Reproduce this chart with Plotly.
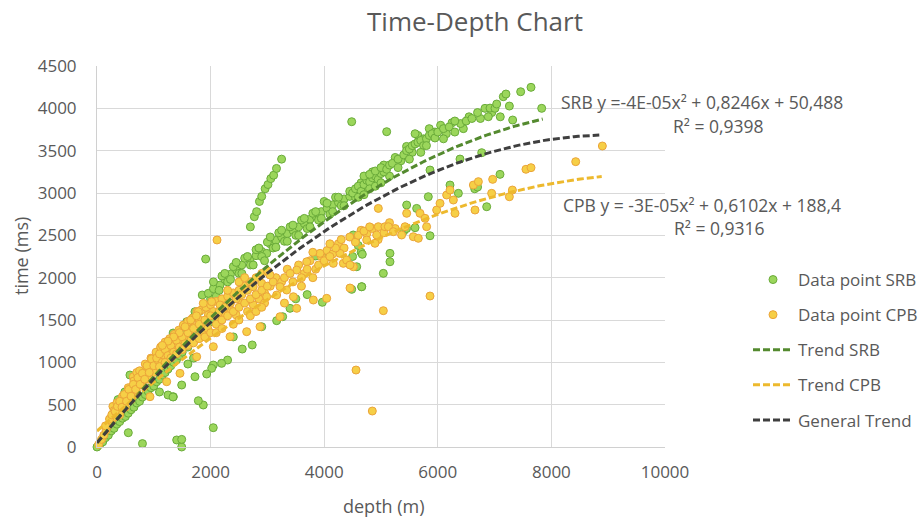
import plotly.graph_objects as go
import numpy as np

# ---------------- data ----------------
srb_depth = [
    0, 50, 100, 150, 200, 250, 300, 350, 400, 450, 500, 550, 600, 650, 700, 750, 800, 850, 900, 950,
    1000, 1050, 1100, 1150, 1200, 1250, 1300, 1350, 1400, 1450, 1500,
    490, 580, 370,
    1000, 1100, 1200, 1300, 1400, 1500, 1600, 1700, 1800, 1900, 2000,
    1600, 1700, 1800, 1900, 2000, 2100, 2200, 2300,
    1100, 1340, 1580, 1725, 1853, 1960, 2050, 2166, 2250, 2350, 2459, 2550, 2694, 2800, 2900, 2988,
    3050, 3150, 3250, 3350, 3450, 3550, 3650, 3750, 3850, 3950, 4050, 4150, 4250, 4350, 4450,
    2100, 2300, 2500, 2700, 2900, 3100, 3300, 3500, 3700, 3900, 4100, 4300,
    2200, 2400, 2600, 2800, 3000, 3200, 3400, 3600, 3800, 4000, 4200,
    2050, 2150, 2250, 2350, 2450, 2550, 2650, 2750, 2850, 2950, 3050, 3150, 3250, 3350, 3450, 3550,
    3650, 3750, 3850, 3950, 4050, 4150, 4250, 4350, 4450, 4550, 4650, 4750, 4850, 4950, 5050, 5150,
    5250, 5350, 5450, 5550, 5650, 5750, 5850, 5950, 6050, 6150, 6250, 6450, 6550, 6750, 6950, 7100,
    4500, 4550, 4600, 4650, 4700, 4750, 4800, 4850, 4900, 4950, 5000, 5050, 4700, 4800, 4900, 5000,
    4600, 4700, 4800, 4900, 5000, 5100, 5150,
    5200, 5300, 5400, 5450, 5500, 5550, 5600, 5650, 5700, 5750, 5800, 5850, 5900, 5950, 6000,
    5300, 5500, 5700, 5600, 5800,
    6100, 6200, 6300, 6400, 6500, 6100, 6300, 6831, 6919, 7007, 7037, 7153, 7200, 7260, 6889,
    7459, 7641, 7829, 7318, 6600, 6700,
    5863, 5833, 6215, 6362, 6861, 7095, 5452, 5628, 5863, 5158, 5158, 5041, 4660, 6773, 6391,
    6650, 6700, 5400, 5450, 5600, 4512, 4550, 4600, 4650, 4500,
    4484, 5100, 1913, 800, 1491, 1403, 1491, 2047, 1871, 1784, 1344, 1491, 1725, 551, 1250, 1338, 1100,
    2299, 2194, 2048, 2019, 1931, 2557, 2733, 3163, 3269, 3398, 3850, 4073, 4671, 4660, 3967, 4484, 4572,
    2400, 2900, 3500, 3700, 1600, 1700,
    2700, 2770, 2810, 2860, 2900, 2960, 3010, 3060, 3110, 3160, 3250,
]
srb_time = [
    0, 30, 60, 110, 140, 190, 220, 270, 300, 340, 360, 400, 440, 470, 520, 540, 590, 620, 660, 700,
    720, 770, 800, 850, 880, 920, 960, 1000, 1030, 1080, 1120,
    650, 850, 560,
    950, 1050, 1120, 1200, 1300, 1380, 1450, 1530, 1600, 1680, 1750,
    1180, 1250, 1330, 1400, 1480, 1550, 1600, 1700,
    1130, 1346, 1480, 1598, 1795, 1815, 1870, 1913, 1980, 2040, 2090, 2150, 2208, 2260, 2310, 2287,
    2400, 2440, 2480, 2520, 2560, 2600, 2640, 2690, 2730, 2780, 2820, 2860, 2890, 2930, 2960,
    1780, 1950, 2050, 2150, 2250, 2350, 2430, 2500, 2580, 2680, 2750, 2850,
    2020, 2130, 2230, 2330, 2420, 2530, 2600, 2680, 2760, 2900, 2950,
    1950, 1850, 2050, 1980, 2180, 2050, 2250, 2150, 2350, 2200, 2480, 2360, 2560, 2430, 2620, 2500,
    2700, 2600, 2780, 2700, 2880, 2780, 2950, 2850, 3020, 2950, 3120, 3050, 3250, 3120, 3330, 3200,
    3420, 3380, 3550, 3480, 3680, 3640, 3760, 3720, 3800, 3700, 3830, 3760, 3900, 3880, 3950, 3900,
    3000, 3050, 3080, 3020, 3100, 3150, 3130, 3180, 3200, 3160, 3230, 3250, 3200, 3220, 3260, 3300,
    2950, 2980, 3050, 3080, 3120, 3280, 3330,
    3350, 3400, 3450, 3500, 3520, 3560, 3580, 3600, 3620, 3560, 3640, 3680, 3700, 3650, 3720,
    3300, 3400, 3480, 3700, 3560,
    3760, 3780, 3720, 3820, 3850, 3640, 3850, 4000, 4003, 4000, 4051, 4137, 4169, 4027, 3901,
    4196, 4248, 4000, 3862, 3880, 3950,
    3271, 2956, 3094, 2996, 2838, 3220, 2858, 2818, 2495, 2287, 2188, 2051, 1893, 3476, 3401,
    3050, 3070, 2550, 2580, 2590, 2504, 2450, 2380, 2300, 2250,
    3842, 3724, 2220, 40, 0, 83, 90, 228, 496, 547, 594, 732, 830, 169, 614, 591, 650,
    1027, 988, 968, 929, 862, 1157, 1205, 1492, 1539, 1638, 2256, 2248, 2276, 1893, 1709, 1862, 2129,
    1300, 1420, 1750, 1800, 980, 1050,
    2600, 2720, 2780, 2900, 2960, 3050, 3100, 3170, 3210, 3290, 3400,
]

cpb_depth = [
    30, 80, 120, 160, 200, 250, 280, 300, 340, 380, 420, 460, 500, 540, 580, 620, 660, 700, 740, 780,
    820, 860, 900, 940, 980, 300, 400, 500, 600, 700, 800, 900, 1000, 640, 700, 350, 450, 550, 650,
    750, 850, 950,
    150, 220, 260, 320, 360, 400, 440, 480, 520, 560, 600, 640, 680, 720, 760, 800, 840, 880, 920, 960,
    1000, 1040, 1080, 1120, 1160, 1200, 1240, 1280, 1320, 1360, 1400, 1440, 1480, 1520, 1560, 1600,
    1640, 1680, 1720, 1760, 1800, 1840, 1880, 1920, 1960, 2000, 2050, 2100, 2150, 2200, 2250, 2300,
    2350, 2400, 2450, 2500, 2550, 2600, 2650, 2700, 2750, 2800, 2850, 2900, 2950, 3000, 3050, 3150,
    3250, 3350, 3450, 3550, 3650, 3750, 3850, 3950, 4050, 4150, 4250, 4350, 4450, 4550, 4650, 4750,
    4850, 4950, 5050, 5150, 5250,
    1050, 1100, 1150, 1200, 1250, 1300, 1350, 1400, 1450, 1500, 1550, 1600, 1650, 1700, 1750, 1800,
    1850, 1900, 1950, 2000, 1100, 1200, 1300, 1400, 1500, 1600, 1700, 1800, 1900, 2000,
    1227, 933, 1461, 1755, 2048, 1784, 1871, 2019, 2166, 1650, 1750, 1550, 1450, 1350, 1250, 1150,
    2100, 2150, 2200, 2250, 2300, 2350, 2400, 2450, 2500, 2550, 2600, 2650, 2700, 2750, 2800, 2899,
    2900, 2950, 3000, 2100, 2200, 2342, 2400, 2500, 2635, 2700, 2870, 2800, 2900, 2113, 2300, 2500, 2600,
    3046, 2987, 3163, 3222, 3340, 3457, 3516, 3692, 3926, 4278, 4337, 4160, 4395, 4513, 3222, 3516,
    3809, 4044, 3100, 3300, 3400, 3600, 3700, 3800, 3900, 4000, 4100, 3600, 3300, 3800, 4200,
    4454, 4454, 4748, 4894, 4924, 4953, 5070, 5129, 5217, 5363, 5423, 5452, 5569, 5657, 5687, 5775,
    5803, 5980, 6039, 6156, 6215, 6274, 6303, 6626, 6655, 6714, 6948, 6966, 7260, 7313, 7552, 7641,
    8428, 8897, 5863, 5041, 4560, 4847, 4600, 4700, 4800, 4300, 4100, 4953,
]
cpb_time = [
    30, 90, 140, 200, 260, 300, 480, 350, 400, 450, 500, 520, 560, 600, 650, 680, 720, 760, 800, 830,
    870, 900, 940, 980, 1000, 430, 380, 470, 560, 650, 730, 800, 880, 830, 880, 520, 600, 700, 780,
    900, 980, 1050,
    250, 330, 380, 420, 480, 540, 470, 620, 540, 680, 600, 740, 680, 820, 740, 870, 800, 960, 880, 1040,
    960, 1120, 1020, 1180, 1090, 1240, 1140, 1280, 1180, 1330, 1200, 1380, 1260, 1440, 1300, 1480,
    1380, 1520, 1420, 1600, 1500, 1620, 1450, 1650, 1560, 1680, 1600, 1720, 1520, 1750, 1580, 1780,
    1620, 1820, 1560, 1850, 1700, 1900, 1600, 1950, 1680, 2000, 1750, 2050, 1820, 2080, 1900, 2000,
    1950, 2100, 1950, 2150, 2050, 2200, 2100, 2250, 2320, 2280, 2400, 2350, 2480, 2420, 2560, 2520,
    2580, 2450, 2530, 2650, 2580,
    1050, 1100, 1000, 1150, 1080, 1200, 1120, 1260, 1180, 1300, 1220, 1350, 1260, 1400, 1300, 1450,
    1350, 1500, 1400, 1550, 950, 1000, 1050, 1100, 1150, 1200, 1230, 1280, 1300, 1350,
    771, 594, 870, 1066, 1185, 1598, 1697, 1716, 1677, 1500, 1550, 1420, 1350, 1300, 1250, 1200,
    1450, 1600, 1500, 1650, 1550, 1700, 1600, 1750, 1650, 1800, 1700, 1850, 1750, 1893, 1800, 1933,
    1850, 1700, 1900, 1350, 1400, 1303, 1450, 1500, 1362, 1550, 1421, 1600, 1650, 2445, 1850, 1950, 2000,
    2031, 1775, 1795, 1893, 1854, 1775, 2090, 2188, 2287, 2287, 2169, 2169, 2208, 2129, 1539, 1638,
    1736, 1756, 1950, 2000, 2050, 2000, 2100, 2000, 2150, 2200, 2250, 1900, 1700, 2300, 2350,
    2150, 1878, 2445, 2406, 2504, 2602, 2602, 2602, 2543, 2504, 2602, 2760, 2484, 2465, 2760, 2701,
    2602, 2799, 2878, 2976, 3035, 2917, 2760, 3094, 2799, 3134, 2996, 3161, 2956, 3035, 3280, 3299,
    3370, 3555, 1783, 1610, 909, 425, 2500, 2550, 2600, 2450, 2400, 2818,
]

# trendline coefficients (quadratic: a*x^2 + b*x + c) and x-extent
srb_coef = [-4.3e-05, 0.8246, 50.488]
cpb_coef = [-3.06e-05, 0.6102, 188.4]
gen_coef = [-4.4e-05, 0.80, 50.0]
srb_xmax = 7847
cpb_xmax = 8886
gen_xmax = 8843

x_ticks = [0, 2000, 4000, 6000, 8000, 10000]
y_ticks = [0, 500, 1000, 1500, 2000, 2500, 3000, 3500, 4000, 4500]

# ---------------- figure ----------------
FONT = "Open Sans"
GRAY = "#595959"

def curve(coef, xmax):
    xs = np.linspace(0, xmax, 120)
    return xs, np.polyval(coef, xs)

fig = go.Figure()
fig.add_trace(go.Scatter(
    x=srb_depth, y=srb_time, mode="markers", name="Data point SRB", legendgroup="a",
    marker=dict(size=8, color="#9BD65B", line=dict(color="#6AAB3A", width=1)), cliponaxis=False))
fig.add_trace(go.Scatter(
    x=cpb_depth, y=cpb_time, mode="markers", name="Data point CPB", legendgroup="b",
    marker=dict(size=8, color="#F6CF46", line=dict(color="#EBA43A", width=1)), cliponaxis=False))
xs, ys = curve(srb_coef, srb_xmax)
fig.add_trace(go.Scatter(x=xs, y=ys, mode="lines", name="Trend SRB", legendgroup="c",
                         line=dict(color="#548A2F", width=3, dash="7px,3px")))
xs, ys = curve(cpb_coef, cpb_xmax)
fig.add_trace(go.Scatter(x=xs, y=ys, mode="lines", name="Trend CPB", legendgroup="d",
                         line=dict(color="#EDB92E", width=3, dash="7px,3px")))
xs, ys = curve(gen_coef, gen_xmax)
fig.add_trace(go.Scatter(x=xs, y=ys, mode="lines", name="General Trend", legendgroup="e",
                         line=dict(color="#3F3F3F", width=3, dash="7px,3px")))

L, R, T, B = 97, 665, 66, 447
W, H = 919, 517

def px(xp):
    return (xp - L) / (R - L)

def py(yp):
    return (B - yp) / (B - T)

annots = [
    dict(text="SRB y =-4E-05x² + 0,8246x + 50,488", x=px(702), y=py(102)),
    dict(text="R² = 0,9398", x=px(718), y=py(126)),
    dict(text="CPB y = -3E-05x² + 0,6102x + 188,4", x=px(702), y=py(205)),
    dict(text="R² = 0,9316", x=px(719), y=py(228)),
]
for a in annots:
    fig.add_annotation(xref="paper", yref="paper", showarrow=False, xanchor="center", yanchor="middle",
                       font=dict(family=FONT, size=17.5, color=GRAY), **a)

fig.add_annotation(xref="paper", yref="paper", x=px(384), y=py(506), text="depth (m)", showarrow=False,
                   xanchor="center", yanchor="middle", font=dict(family=FONT, size=18, color=GRAY))
fig.add_annotation(xref="paper", yref="paper", x=px(21), y=py(256), text="time (ms)", showarrow=False,
                   textangle=-90, xanchor="center", yanchor="middle", font=dict(family=FONT, size=18, color=GRAY))

fig.update_layout(
    width=W, height=H,
    margin=dict(l=L, r=W - R, t=T, b=H - B, autoexpand=False),
    paper_bgcolor="white", plot_bgcolor="white",
    title=dict(text="Time-Depth Chart", x=475 / W, xanchor="center", y=1 - 22 / H, yanchor="middle",
               font=dict(family=FONT, size=26, color=GRAY)),
    showlegend=True,
    legend=dict(x=px(748), y=py(262), xanchor="left", yanchor="top", traceorder="grouped",
                tracegroupgap=10, itemwidth=40, font=dict(family=FONT, size=17, color=GRAY),
                bgcolor="rgba(0,0,0,0)"),
    font=dict(family=FONT, color=GRAY),
)
fig.update_xaxes(range=[0, 10000], tickvals=x_ticks, ticktext=[str(v) for v in x_ticks],
                 showgrid=True, gridcolor="#D9D9D9", gridwidth=1, zeroline=False,
                 showline=True, linecolor="#D0D0D0", linewidth=1, mirror=False,
                 tickfont=dict(family=FONT, size=17, color=GRAY), ticks="", ticklabelstandoff=10)
fig.update_yaxes(range=[0, 4500], tickvals=y_ticks, ticktext=[str(v) for v in y_ticks],
                 showgrid=True, gridcolor="#D9D9D9", gridwidth=1, zeroline=False,
                 showline=True, linecolor="#D0D0D0", linewidth=1,
                 tickfont=dict(family=FONT, size=17, color=GRAY), ticks="", ticklabelstandoff=16)

fig.write_html("out.html", config={"displayModeBar": False},
               post_script="document.body.style.margin='0px';")
